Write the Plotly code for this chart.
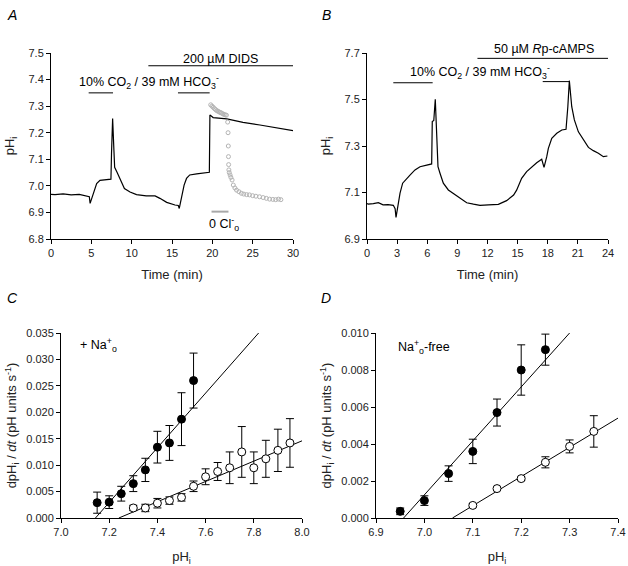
import plotly.graph_objects as go

# panel A: pHi trace (min, pH units)
time_a = [0, 0.5, 1.5, 2.5, 3.5, 4.4, 4.75, 4.85, 5.16, 5.66, 6.07, 6.9, 7.43, 7.5, 7.64, 7.8, 7.89,
          8.2, 8.5, 9.1, 9.8, 10.6, 11.8, 12.9, 13.5, 14.34, 15.37, 15.78, 15.9, 16.1, 16.5, 16.8,
          17.2, 18.06, 18.9, 19.63, 19.7, 19.9, 20.1, 21.8, 23.8, 25.9, 27.98, 30]
ph_a = [6.968, 6.967, 6.970, 6.966, 6.968, 6.963, 6.959, 6.934, 6.965, 7.009, 7.021, 7.024, 7.025,
        7.12, 7.253, 7.134, 7.07, 7.05, 7.03, 6.99, 6.977, 6.967, 6.962, 6.962, 6.953, 6.938, 6.928,
        6.926, 6.915, 6.947, 7.003, 7.028, 7.041, 7.045, 7.048, 7.051, 7.267, 7.262, 7.257, 7.252,
        7.239, 7.229, 7.219, 7.208]

# panel A: 0 Cl- trace (grey circles)
time_cl = [19.8, 19.95, 20.1, 20.25, 20.4, 20.55, 20.7, 20.85, 21.0, 21.15, 21.3, 21.45, 21.6, 21.75,
           21.9, 21.95, 21.98, 22.0, 22.02, 22.05, 22.1, 22.2, 22.3, 22.45, 22.6, 22.8, 23.0, 23.3,
           23.6, 23.9, 24.25, 24.6, 25.0, 25.4, 25.85, 26.3, 26.7, 27.1, 27.5, 27.85, 28.2, 28.5]
ph_cl = [7.305, 7.300, 7.296, 7.291, 7.287, 7.283, 7.281, 7.278, 7.276, 7.274, 7.271, 7.269, 7.267,
         7.266, 7.24, 7.20, 7.15, 7.11, 7.08, 7.06, 7.05, 7.041, 7.032, 7.022, 7.003, 6.992, 6.984,
         6.978, 6.972, 6.969, 6.967, 6.966, 6.963, 6.961, 6.959, 6.956, 6.953, 6.950, 6.949, 6.948,
         6.950, 6.948]

# panel B: pHi trace
time_b = [0, 0.13, 0.63, 1.13, 1.6, 2.1, 2.62, 2.8, 2.89, 3.05, 3.29, 3.55, 3.95, 4.28, 4.78, 5.28,
          5.95, 6.44, 6.5, 6.65, 6.8, 6.94, 7.07, 7.27, 7.6, 8.1, 8.6, 9.26, 9.93, 10.6, 11.25, 12.1,
          13.08, 13.9, 14.6, 14.9, 15.4, 15.9, 16.4, 16.9, 17.4, 17.63, 17.9, 18.06, 18.4, 18.9,
          19.4, 19.82, 20.0, 20.15, 20.39, 20.65, 21.05, 21.55, 22.05, 22.54, 23.04, 23.54, 23.94]
ph_b = [7.052, 7.05, 7.052, 7.056, 7.047, 7.048, 7.045, 7.03, 6.993, 7.04, 7.097, 7.14, 7.161, 7.175,
        7.197, 7.211, 7.218, 7.223, 7.405, 7.41, 7.501, 7.326, 7.211, 7.183, 7.14, 7.111, 7.097,
        7.075, 7.056, 7.05, 7.045, 7.047, 7.049, 7.065, 7.089, 7.11, 7.161, 7.19, 7.211, 7.228,
        7.243, 7.208, 7.254, 7.29, 7.333, 7.355, 7.369, 7.372, 7.469, 7.581, 7.469, 7.412, 7.361,
        7.326, 7.294, 7.28, 7.269, 7.254, 7.257]

# treatment periods (start, end, level)
co2_a = [(4.67, 7.69, 7.35), (15.74, 19.67, 7.35)]
dids_a = (12.07, 30, 7.452)
cl_a = (19.9, 22.0, 6.903)
co2_b = [(2.62, 6.54, 7.572), (17.5, 20.15, 7.577)]
rp_b = (11.0, 24, 7.677)

# panel C: dpHi/dt vs pHi, + Na+o
c_ph_fill = [7.15, 7.20, 7.25, 7.30, 7.35, 7.40, 7.45, 7.50, 7.55]
c_rate_fill = [0.0029, 0.0030, 0.0046, 0.0065, 0.0091, 0.0134, 0.0142, 0.0187, 0.0260]
c_err_fill = [0.0020, 0.0012, 0.0014, 0.0015, 0.0022, 0.0030, 0.0033, 0.0050, 0.0052]
c_ph_open = [7.30, 7.35, 7.40, 7.45, 7.50, 7.55, 7.60, 7.65, 7.70, 7.75, 7.80, 7.85, 7.90, 7.95]
c_rate_open = [0.0019, 0.0019, 0.0028, 0.0033, 0.0039, 0.0060, 0.0078, 0.0088, 0.0095, 0.0125,
               0.0095, 0.0112, 0.0128, 0.0142]
c_err_open = [0.0005, 0.0007, 0.0009, 0.0007, 0.0007, 0.0010, 0.0015, 0.0017, 0.0030, 0.0048,
              0.0030, 0.0035, 0.0040, 0.0046]
c_fit_fill = ([7.143, 7.82], [0.0, 0.035])
c_fit_open = ([7.24, 8.0], [0.0, 0.0146])

# panel D: Na+o-free
d_ph_fill = [6.95, 7.00, 7.05, 7.10, 7.15, 7.20, 7.25]
d_rate_fill = [0.00036, 0.00094, 0.0024, 0.0036, 0.0057, 0.0080, 0.0091]
d_err_fill = [0.00018, 0.00026, 0.00042, 0.00066, 0.00073, 0.00136, 0.00084]
d_ph_open = [7.10, 7.15, 7.20, 7.25, 7.30, 7.35]
d_rate_open = [0.00068, 0.00159, 0.00213, 0.00301, 0.00387, 0.00468]
d_err_open = [0.0001, 0.0001, 0.0001, 0.0003, 0.00035, 0.00085]
d_fit_fill = ([6.957, 7.30], [0.0, 0.0100])
d_fit_open = ([7.058, 7.4], [0.0, 0.0054])

W, H = 628, 566
FONT = "Liberation Sans, Arial, sans-serif"


def px_dom(a, b, total):
    return [a / total, b / total]


def ydom(top, bottom):
    return [1 - bottom / H, 1 - top / H]


fig = go.Figure()

# A
fig.add_trace(go.Scatter(x=time_a, y=ph_a, mode="lines", line=dict(color="black", width=1.2),
                         xaxis="x", yaxis="y"))
fig.add_trace(go.Scatter(x=time_cl, y=ph_cl, mode="markers",
                         marker=dict(symbol="circle-open", size=4, color="#b4b4b4", line=dict(width=1)),
                         xaxis="x", yaxis="y"))
# B
fig.add_trace(go.Scatter(x=time_b, y=ph_b, mode="lines", line=dict(color="black", width=1.2),
                         xaxis="x2", yaxis="y2"))

# C and D
for ax, fits, sets in [
    ("3", [c_fit_fill, c_fit_open],
     [(c_ph_fill, c_rate_fill, c_err_fill, "black"), (c_ph_open, c_rate_open, c_err_open, "white")]),
    ("4", [d_fit_fill, d_fit_open],
     [(d_ph_fill, d_rate_fill, d_err_fill, "black"), (d_ph_open, d_rate_open, d_err_open, "white")]),
]:
    for fx, fy in fits:
        fig.add_trace(go.Scatter(x=fx, y=fy, mode="lines", line=dict(color="black", width=1),
                                 xaxis="x" + ax, yaxis="y" + ax))
    for xs, ys, es, fill in sets:
        fig.add_trace(go.Scatter(
            x=xs, y=ys, mode="markers", cliponaxis=False,
            marker=dict(size=8, color=fill, line=dict(color="black", width=1)),
            error_y=dict(type="data", array=es, symmetric=True, color="black", thickness=1, width=4),
            xaxis="x" + ax, yaxis="y" + ax))

axis_common = dict(showgrid=False, zeroline=False, showline=True, linecolor="black", linewidth=1,
                   ticks="outside", ticklen=4, tickcolor="black", tickwidth=1, automargin=False,
                   tickfont=dict(family=FONT, size=11, color="#222"),
                   title_font=dict(family=FONT, size=13, color="#222"))

fig.update_layout(
    width=W, height=H, margin=dict(l=0, r=0, t=0, b=0),
    paper_bgcolor="white", plot_bgcolor="white", showlegend=False,
    font=dict(family=FONT, color="black"),
    xaxis=dict(axis_common, domain=px_dom(51, 293, W), range=[0, 30], dtick=5, tick0=0,
               anchor="y", title=dict(text="Time (min)", standoff=11)),
    yaxis=dict(axis_common, domain=ydom(53, 239), range=[6.8, 7.5], dtick=0.1, tick0=6.8,
               tickformat=".1f", anchor="x", title=dict(text="pH<sub>i</sub>", standoff=10)),
    xaxis2=dict(axis_common, domain=px_dom(367, 608, W), range=[0, 24], dtick=3, tick0=0,
                anchor="y2", title=dict(text="Time (min)", standoff=11)),
    yaxis2=dict(axis_common, domain=ydom(53, 239), range=[6.9, 7.7], dtick=0.2, tick0=6.9,
                tickformat=".1f", anchor="x2", title=dict(text="pH<sub>i</sub>", standoff=10)),
    xaxis3=dict(axis_common, domain=px_dom(61, 302, W), range=[7.0, 8.0], dtick=0.2, tick0=7.0,
                tickformat=".1f", anchor="y3", title=dict(text="pH<sub>i</sub>", standoff=14)),
    yaxis3=dict(axis_common, domain=ydom(333, 518), range=[0, 0.035], dtick=0.005, tick0=0,
                tickformat=".3f", anchor="x3",
                title=dict(text="dpH<sub>i</sub> / <i>dt</i> (pH units s<sup>-1</sup>)", standoff=6)),
    xaxis4=dict(axis_common, domain=px_dom(376, 618, W), range=[6.9, 7.4], dtick=0.1, tick0=6.9,
                tickformat=".1f", anchor="y4", title=dict(text="pH<sub>i</sub>", standoff=14)),
    yaxis4=dict(axis_common, domain=ydom(333, 518), range=[0, 0.010], dtick=0.002, tick0=0,
                tickformat=".3f", anchor="x4",
                title=dict(text="dpH<sub>i</sub> / <i>dt</i> (pH units s<sup>-1</sup>)", standoff=6)),
)

shapes = []
for x0, x1, lvl in co2_a + [dids_a]:
    shapes.append(dict(type="line", xref="x", yref="y", x0=x0, x1=x1, y0=lvl, y1=lvl,
                       line=dict(color="black", width=1)))
shapes.append(dict(type="line", xref="x", yref="y", x0=cl_a[0], x1=cl_a[1], y0=cl_a[2], y1=cl_a[2],
                   line=dict(color="#a8a8a8", width=2)))
for x0, x1, lvl in co2_b + [rp_b]:
    shapes.append(dict(type="line", xref="x2", yref="y2", x0=x0, x1=x1, y0=lvl, y1=lvl,
                       line=dict(color="black", width=1)))
fig.update_layout(shapes=shapes)

co2_text = "10% CO<sub>2</sub> / 39 mM HCO<sub>3</sub><sup>-</sup>"
# labels placed by pixel row (y) so ones above the axis range are not hidden
notes = [
    ("x", 12.2, 82, co2_text, "center"),
    ("x", 21.07, 59.5, "200 µM DIDS", "center"),
    ("x", 21.45, 224, "0 Cl<sup>-</sup><sub>o</sub>", "center"),
    ("x2", 11.25, 71.5, co2_text, "center"),
    ("x2", 17.63, 49, "50 µM <i>R</i>p-cAMPS", "center"),
    ("x3", 7.07, 345, "+ Na<sup>+</sup><sub>o</sub>", "left"),
    ("x4", 6.941, 347, "Na<sup>+</sup><sub>o</sub>-free", "left"),
]
for xr, x, py, txt, anc in notes:
    fig.add_annotation(xref=xr, yref="paper", x=x, y=1 - py / H, text=txt, showarrow=False,
                       xanchor=anc, yanchor="middle", font=dict(family=FONT, size=12.5, color="black"))

for lbl, px, py in [("A", 12, 15), ("B", 326, 15), ("C", 12, 298), ("D", 326, 298)]:
    fig.add_annotation(xref="paper", yref="paper", x=px / W, y=1 - py / H, text="<i>" + lbl + "</i>",
                       showarrow=False, xanchor="center", yanchor="middle",
                       font=dict(family=FONT, size=14, color="black"))

fig.write_html("out.html", config={"displayModeBar": False},
               post_script="document.body.style.margin='0';")
